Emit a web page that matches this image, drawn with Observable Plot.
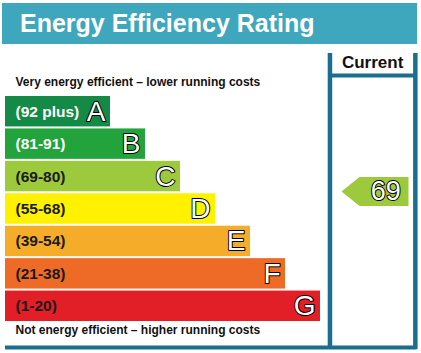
<!DOCTYPE html>
<html><head><meta charset="utf-8">
<script src="https://cdn.jsdelivr.net/npm/d3@7"></script>
<script src="https://cdn.jsdelivr.net/npm/@observablehq/plot@0.6"></script>
<style>
body{margin:0;background:#fff;font-family:Arial,"Liberation Sans",sans-serif;}
#title{margin:3px 4px 0 2px;height:41px;background:#3fa7bd;color:#fff;font-weight:bold;font-size:25px;line-height:41px;padding-left:18px;box-sizing:border-box;white-space:nowrap;}
#chart svg{display:block;}
</style></head><body>
<div id="title">Energy Efficiency Rating</div>
<div id="chart"></div>
<script>
// ---- data ----
const bands = ["A", "B", "C", "D", "E", "F", "G"];
const ranges = ["(92 plus)", "(81-91)", "(69-80)", "(55-68)", "(39-54)", "(21-38)", "(1-20)"];
const minScore = [92, 81, 69, 55, 39, 21, 1];
const maxScore = [100, 91, 80, 68, 54, 38, 20];
const barLength = [3, 4, 5, 6, 7, 8, 9];
const bandColors = ["#138a45", "#23a33b", "#9dc93c", "#fff100", "#f5ad29", "#ee6b27", "#e21e26"];
const labelColors = ["#ffffff", "#ffffff", "#1a1a1a", "#1a1a1a", "#1a1a1a", "#1a1a1a", "#1a1a1a"];
const currentScore = 69;
const columnTitle = "Current";
const topText = "Very energy efficient – lower running costs";
const bottomText = "Not energy efficient – higher running costs";

// ---- layout (scale units) ----
const frameColor = "#1a6e90";
const colLeft = 9.27, colRight = 11.71, colTop = -1.295, colBottom = 7.83;
const headerLineY = -0.617, bottomLineY = 7.77;
const arrowTip = 9.6, arrowBody = 10.114, arrowEnd = 11.514, arrowHalf = 0.447;

const rows = bands.map((b, i) => ({
  band: b, range: ranges[i], len: barLength[i], color: bandColors[i],
  labelColor: labelColors[i], row: i
}));
const bi = bands.findIndex((b, i) => currentScore >= minScore[i] && currentScore <= maxScore[i]);
const currentRow = bi + (maxScore[bi] + 0.5 - currentScore) / (maxScore[bi] - minScore[bi] + 1);
const arrow = [
  {x: arrowTip, y: currentRow},
  {x: arrowBody, y: currentRow - arrowHalf},
  {x: arrowEnd, y: currentRow - arrowHalf},
  {x: arrowEnd, y: currentRow + arrowHalf},
  {x: arrowBody, y: currentRow + arrowHalf}
];

const chart = Plot.plot({
  width: 421, height: 309, margin: 0,
  x: {type: "linear", domain: [0, 12], range: [5, 425], axis: null},
  y: {type: "linear", domain: [0, 7], range: [51, 278], axis: null},
  color: {type: "identity"},
  style: {fontFamily: 'Arial, "Liberation Sans", sans-serif', background: "white", overflow: "visible"},
  marks: [
    Plot.rect(rows, {x1: 0, x2: "len", y1: "row", y2: d => d.row + 1, fill: "color", insetTop: 1, insetBottom: 1}),
    Plot.text(rows, {x: 0, y: d => d.row + 0.5, text: "range", fill: "labelColor", textAnchor: "start", dx: 10, fontSize: 15.5, fontWeight: "bold"}),
    Plot.text(rows, {x: "len", y: d => d.row + 0.5, text: "band", textAnchor: "end", dx: -5, fontSize: 28, fill: "white", stroke: "black", strokeWidth: 2, paintOrder: "stroke"}),
    Plot.text([topText], {x: 0, y: -0.278, text: d => d, dx: 10, textAnchor: "start", lineAnchor: "bottom", fontWeight: "bold", fontSize: 12, fill: "#111"}),
    Plot.text([bottomText], {x: 0, y: 7.37, text: d => d, dx: 10, textAnchor: "start", lineAnchor: "bottom", fontWeight: "bold", fontSize: 12, fill: "#111"}),
    Plot.text([columnTitle], {x: (colLeft + colRight) / 2, y: -0.863, text: d => d, textAnchor: "middle", lineAnchor: "bottom", fontWeight: "bold", fontSize: 17, fill: "#111"}),
    Plot.ruleX([colLeft, colRight], {x: d => d, y1: colTop, y2: colBottom, stroke: frameColor, strokeWidth: 4.5}),
    Plot.ruleY([headerLineY], {y: d => d, x1: colLeft, x2: colRight, stroke: frameColor, strokeWidth: 4}),
    Plot.ruleY([bottomLineY], {y: d => d, x1: 0, x2: colRight + 0.05, stroke: frameColor, strokeWidth: 4}),
    Plot.line(arrow, {x: "x", y: "y", fill: bandColors[bi], stroke: "none"}),
    Plot.text([currentScore], {x: (arrowBody + arrowEnd) / 2 + 0.05, y: currentRow, text: d => String(d), textAnchor: "middle", fontSize: 27, fill: "white", stroke: "black", strokeWidth: 2, paintOrder: "stroke"})
  ]
});
document.getElementById("chart").appendChild(chart);
</script>
</body></html>
